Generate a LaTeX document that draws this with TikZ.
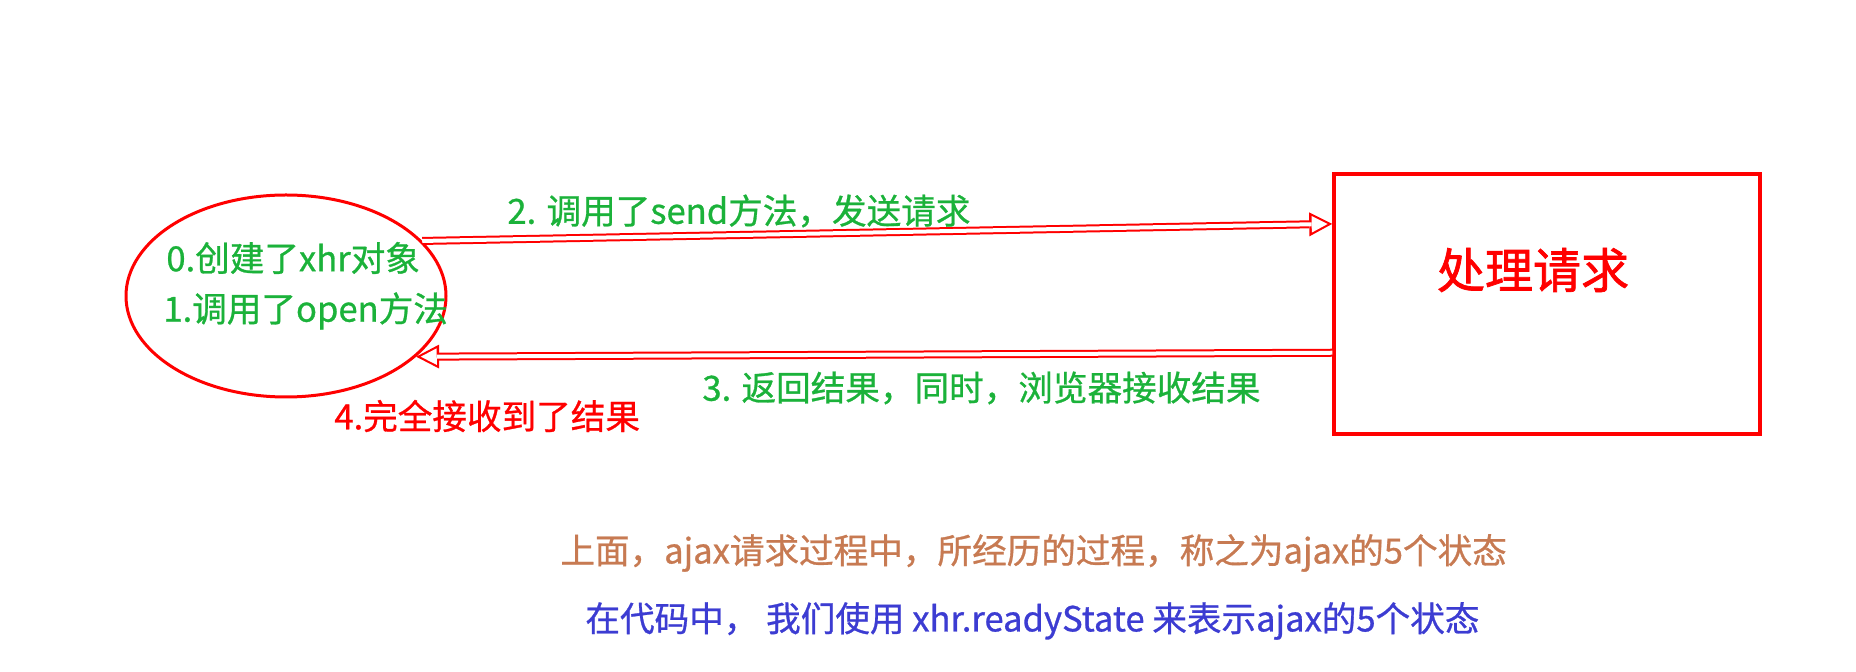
\documentclass[tikz,border=0pt]{standalone}
\usepackage{fontspec}
\setmainfont{Noto Sans CJK SC}[FakeBold=0.8]
\newfontfamily\titlefont{Noto Sans CJK SC}[FakeBold=1.5]
\usepackage{tikz}
\usetikzlibrary{shapes.geometric, arrows.meta, positioning, calc}

\definecolor{stategreen}{RGB}{27,178,58}
\definecolor{notebrown}{RGB}{199,122,82}
\definecolor{noteblue}{RGB}{60,60,210}

\begin{document}
\begin{tikzpicture}[
    x=0.5pt, y=-0.5pt,
    client/.style={ellipse, draw=red, line width=1.5pt, minimum width=160pt, minimum height=101pt, inner sep=0pt},
    server/.style={rectangle, draw=red, line width=1.75pt, minimum width=213pt, minimum height=130pt, inner sep=0pt},
    state/.style={anchor=west, inner sep=0pt, text=stategreen, font=\fontsize{17.3}{20}\selectfont},
    note/.style={anchor=west, inner sep=0pt, font=\fontsize{17.3}{20}\selectfont},
    % hollow arrow: thick red line with a white line on top
    hollow/.style={draw=red, line width=4pt, -{Triangle[length=11.5pt, width=12pt, line width=0pt]},
        postaction={draw=white, line width=2pt, shorten >=2.3pt, -{Triangle[length=8pt, width=8.3pt, line width=0pt]}}}
]
    \useasboundingbox (0,0) rectangle (1856,672);

    \node[client] (xhr) at (286,296) {};
    \node[server] (req) at (1547,304) {};
    \node[text=red, font=\titlefont\fontsize{24}{28}\selectfont] (reqtext) at (1533,270) {处理请求};

    \node[state] (s0) at (166,258) {0.创建了xhr对象};
    \node[state] (s1) at (163,311) {1.调用了open方法};
    \node[state] (s2) at (507,211) {2. 调用了send方法，发送请求};
    \node[state] (s3) at (702,388) {3. 返回结果，同时，浏览器接收结果};
    \node[state, text=red] (s4) at (334,416) {4.完全接收到了结果};

    \node[note, text=notebrown] (note1) at (560,553) {上面，ajax请求过程中，所经历的过程，称之为ajax的5个状态};
    \node[note, text=noteblue] (note2) at (585,621) {在代码中， 我们使用 xhr.readyState 来表示ajax的5个状态};

    \draw[hollow] (xhr.22) -- ($(req.north west)!0.196!(req.south west)$);
    \draw[hollow] ($(req.north west)!0.685!(req.south west)$) -- (xhr.-25);
\end{tikzpicture}
\end{document}
